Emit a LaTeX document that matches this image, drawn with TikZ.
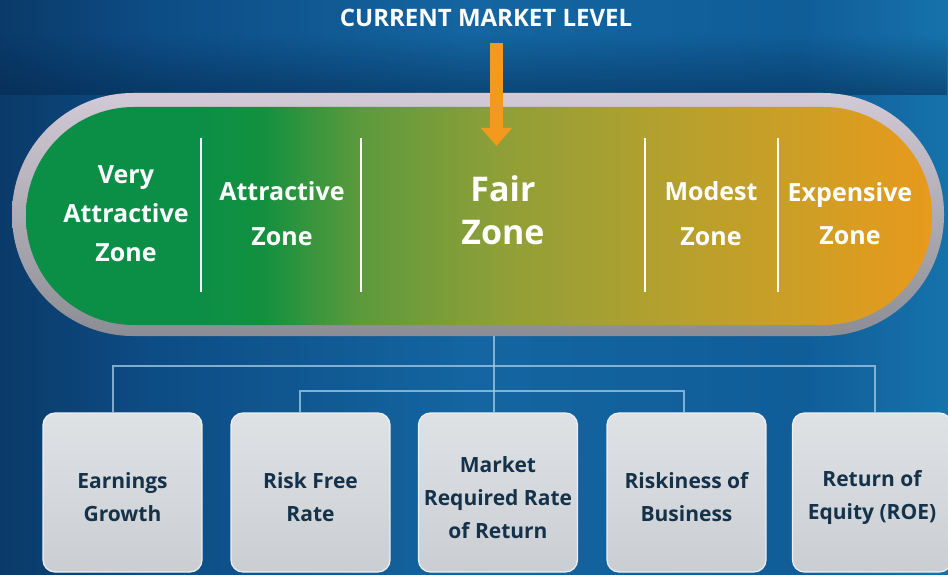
\documentclass[tikz,border=0pt]{standalone}
\usepackage{fontspec}
\setmainfont{Open Sans}
\usetikzlibrary{arrows.meta,calc,fadings}
\definecolor{bg0}{HTML}{0A3A69}
\definecolor{bg1}{HTML}{0D4C84}
\definecolor{bg2}{HTML}{1465A1}
\definecolor{bg3}{HTML}{105D98}
\definecolor{bg4}{HTML}{1672AB}
\definecolor{zg}{HTML}{0B8F46}
\definecolor{zg2}{HTML}{12903F}
\definecolor{zo1}{HTML}{5C9A3C}
\definecolor{zo2}{HTML}{8F9F38}
\definecolor{zy}{HTML}{B0A02F}
\definecolor{zy2}{HTML}{C99F27}
\definecolor{zor}{HTML}{E89A1C}
\definecolor{capt}{HTML}{D2CAD6}
\definecolor{capbot}{HTML}{8C8D94}
\definecolor{morange}{HTML}{F39A1E}
\definecolor{treec}{HTML}{9CC6E3}
\definecolor{boxtop}{HTML}{DFE2E5}
\definecolor{boxbot}{HTML}{CACED2}
\definecolor{boxedge}{HTML}{EEF0F2}
\definecolor{navy}{HTML}{15324B}
\definecolor{band}{HTML}{04264A}
\pgfdeclarehorizontalshading{bgshade}{100bp}{color(0bp)=(bg0); color(25bp)=(bg0); color(32.9bp)=(bg1); color(49.8bp)=(bg2); color(67.2bp)=(bg3); color(75bp)=(bg4); color(100bp)=(bg4)}
\pgfdeclarehorizontalshading{zoneshade}{100bp}{color(0bp)=(zg); color(25bp)=(zg); color(34.6bp)=(zg); color(38bp)=(zg2); color(43.4bp)=(zo1); color(51.2bp)=(zo2); color(59.2bp)=(zy); color(66.6bp)=(zy2); color(75bp)=(zor); color(100bp)=(zor)}
\tikzfading[name=bandfade, top color=transparent!100, bottom color=transparent!0]
\tikzset{
  zonetext/.style={text=white, align=center, inner sep=0pt},
  divider/.style={draw=white, line width=1.5pt},
  tree/.style={draw=treec, line width=1.4pt, opacity=0.8},
  factor/.style={rectangle, rounded corners=12pt, minimum width=159pt, minimum height=159pt,
    top color=boxtop, bottom color=boxbot, draw=boxedge, line width=1.2pt},
  factortext/.style={text=navy, font=\fontsize{21}{33}\selectfont\bfseries, align=center, inner sep=0pt},
  title/.style={text=white, font=\fontsize{24}{26}\selectfont\bfseries, inner sep=0pt}
}
\begin{document}
\begin{tikzpicture}[x=1pt,y=-1pt]
\useasboundingbox (0,0) rectangle (948,575);
% background
\shade[shading=bgshade] (0,0) rectangle (948,575);
\fill[band, opacity=0.5, path fading=bandfade] (0,35) rectangle (948,95);
% capsule
\path[rounded corners=121pt, top color=capt, bottom color=capbot] (12,93) rectangle (944,336);
\shade[shading=zoneshade, rounded corners=108pt] (26,107) rectangle (932,325);
% dividers
\foreach \xx in {201,361,645,778} \draw[divider] (\xx,138) -- (\xx,292);
% zone texts
\node[zonetext, font=\fontsize{25}{39}\selectfont\bfseries] (z1) at (126,214) {Very\\Attractive\\Zone};
\node[zonetext, font=\fontsize{25}{45}\selectfont\bfseries] (z2) at (282,213.5) {Attractive\\Zone};
\node[zonetext, font=\fontsize{34}{43}\selectfont\bfseries] (z3) at (503,210.5) {Fair\\Zone};
\node[zonetext, font=\fontsize{25}{45}\selectfont\bfseries] (z4) at (711,213.5) {Modest\\Zone};
\node[zonetext, font=\fontsize{25}{43}\selectfont\bfseries] (z5) at (850,213.5) {Expensive\\Zone};
% title and arrow
\node[title] (ttl) at (486,18) {CURRENT MARKET LEVEL};
\coordinate (arrtop) at (496.5,43);
\coordinate (arrtip) at (496.5,146);
\draw[morange, line width=13pt, -{Triangle[width=30pt,length=18pt]}] (arrtop) -- (arrtip);
% factor boxes
\node[factor] (b1) at (122.5,492.5) {};
\node[factor] (b2) at (310.5,492.5) {};
\node[factor] (b3) at (498,492.5) {};
\node[factor] (b4) at (686.5,492.5) {};
\node[factor] (b5) at (872,492.5) {};
\node[factortext] (b1t) at ([yshift=-5pt]b1.center) {Earnings\\Growth};
\node[factortext] (b2t) at ([yshift=-5pt]b2.center) {Risk Free\\Rate};
\node[factortext] (b3t) at ([yshift=-5pt]b3.center) {Market\\Required Rate\\of Return};
\node[factortext] (b4t) at ([yshift=-5pt]b4.center) {Riskiness of\\Business};
\node[factortext] (b5t) at ([yshift=-5pt]b5.center) {Return of\\Equity (ROE)};
% tree
\coordinate (capb) at (494,336);
\coordinate (h1) at (0,366);
\coordinate (h2) at (0,391);
\coordinate (t1) at ([xshift=-9.5pt]b1.north);
\coordinate (t2) at ([xshift=-10.5pt]b2.north);
\coordinate (t4) at ([xshift=-2.5pt]b4.north);
\coordinate (t5) at ([xshift=3pt]b5.north);
\draw[tree] (capb) -- (b3.north -| capb);
\draw[tree] (t1) |- (h1 -| t5) -- (t5);
\draw[tree] (t2) |- (h2 -| t4) -- (t4);
\end{tikzpicture}
\end{document}
